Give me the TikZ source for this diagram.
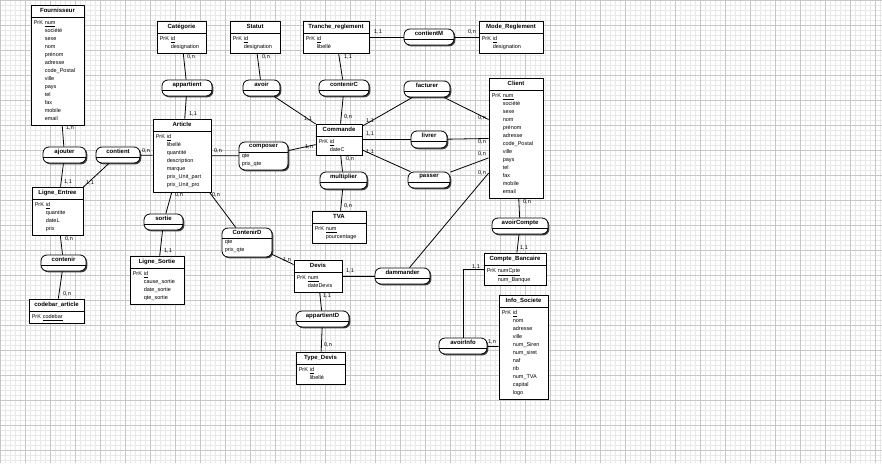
\documentclass[tikz,border=0pt]{standalone}
\usepackage{fontspec}
\setmainfont{Liberation Sans}
\usetikzlibrary{positioning,fit,shadows}
\tikzset{
  grillefine/.style={step=5pt, black!9, line width=0.4pt},
  grille/.style={step=25pt, black!22, line width=0.5pt},
  entite/.style={draw, fill=white, line width=0.8pt, inner sep=0pt,
    drop shadow={shadow xshift=1.3pt, shadow yshift=-1.3pt, fill=black!75, opacity=1}},
  assoc/.style={entite, rounded corners=6pt},
  titre/.style={inner sep=0pt, minimum height=12pt, font=\fontsize{6}{7}\selectfont\bfseries},
  attr/.style={inner xsep=3pt, inner ysep=2pt, anchor=north west, font=\fontsize{5.5}{8}\selectfont},
  card/.style={inner sep=0pt, font=\fontsize{5.5}{7}\selectfont},
  lien/.style={line width=0.8pt},
}
% entite : nom, coin haut gauche, coin bas droit, titre, attributs
\newcommand{\entite}[5]{%
  \node[entite, fit={#2 #3}] (#1) {};
  \node[titre, below=0pt of #1.north] (#1-t) {#4};
  \draw[lien] (#1-t.south -| #1.west) -- (#1-t.south -| #1.east);
  \node[attr] (#1-a) at (#1-t.south -| #1.west) {\begin{tabular}{@{}p{11pt}@{}l@{}}#5\end{tabular}};
}
% association : nom, coin haut gauche, coin bas droit, titre
\newcommand{\relation}[4]{%
  \node[assoc, fit={#2 #3}] (#1) {};
  \node[titre, minimum height=10pt, below=0pt of #1.north] (#1-t) {#4};
  \draw[lien] (#1-t.south -| #1.west) -- (#1-t.south -| #1.east);
}
\begin{document}
\begin{tikzpicture}[x=1pt, y=-1pt, line join=round]
\useasboundingbox (0,0) rectangle (882,463);
%Grille de fond
\draw[grillefine] (0,0) grid (882,463);
\draw[grille] (0,0) grid (882,463);
%Les entites
\entite{fourn}{(31,5)}{(84,125)}{Fournisseur}{PrK & \underline{num}\\ & société\\ & sexe\\ & nom\\ & prénom\\ & adresse\\ & code\_Postal\\ & ville\\ & pays\\ & tel\\ & fax\\ & mobile\\ & email}
\entite{categorie}{(157,21)}{(206,53)}{Catégorie}{PrK & \underline{id}\\ & designation}
\entite{statut}{(230,21)}{(280,53)}{Statut}{PrK & \underline{id}\\ & designation}
\entite{tranche}{(303,21)}{(369,53)}{Tranche\_reglement}{PrK & \underline{id}\\ & libellé}
\entite{mode}{(479,21)}{(543,53)}{Mode\_Reglement}{PrK & \underline{id}\\ & designation}
\entite{client}{(489,78)}{(543,198)}{Client}{PrK & \underline{num}\\ & société\\ & sexe\\ & nom\\ & prénom\\ & adresse\\ & code\_Postal\\ & ville\\ & pays\\ & tel\\ & fax\\ & mobile\\ & email}
\entite{article}{(153,119)}{(211,192)}{Article}{PrK & \underline{id}\\ & libellé\\ & quantité\\ & description\\ & marque\\ & prix\_Unit\_part\\ & prix\_Unit\_pro}
\entite{commande}{(316,124)}{(362,155)}{Commande}{PrK & \underline{id}\\ & dateC}
\entite{tva}{(312,211)}{(366,243)}{TVA}{PrK & \underline{num}\\ & pourcentage}
\entite{devis}{(294,260)}{(342,292)}{Devis}{PrK & \underline{num}\\ & dateDevis}
\entite{typedevis}{(296,352)}{(345,384)}{Type\_Devis}{PrK & \underline{id}\\ & libellé}
\entite{ligneE}{(32,187)}{(83,235)}{Ligne\_Entree}{PrK & \underline{id}\\ & quantite\\ & dateL\\ & prix}
\entite{codebar}{(29,299)}{(84,323)}{codebar\_article}{PrK & \underline{codebar}}
\entite{ligneS}{(130,256)}{(184,304)}{Ligne\_Sortie}{PrK & \underline{id}\\ & cause\_sortie\\ & date\_sortie\\ & qte\_sortie}
\entite{compte}{(484,253)}{(546,285)}{Compte\_Bancaire}{PrK & \underline{numCpte}\\ & num\_Banque}
\entite{info}{(499,295)}{(548,399)}{Info\_Societe}{PrK & \underline{id}\\ & nom\\ & adresse\\ & ville\\ & num\_Siren\\ & num\_siret\\ & naf\\ & rib\\ & num\_TVA\\ & capital\\ & logo}
%Les associations
\relation{ajouter}{(43,147)}{(86,163)}{ajouter}
\relation{contient}{(96,147)}{(140,163)}{contient}
\relation{appartient}{(162,80)}{(212,96)}{appartient}
\relation{avoir}{(243,80)}{(280,96)}{avoir}
\relation{contenirC}{(319,80)}{(369,96)}{contenirC}
\relation{contientM}{(404,29)}{(454,45)}{contientM}
\relation{facturer}{(404,81)}{(450,97)}{facturer}
\relation{livrer}{(411,131)}{(447,148)}{livrer}
\relation{passer}{(408,172)}{(450,188)}{passer}
\relation{composer}{(239,142)}{(288,170)}{composer}
\node[attr, inner ysep=0pt] (composer-a) at (composer-t.south -| composer.west) {\begin{tabular}{@{}l@{}}qte\\ prix\_qte\end{tabular}};
\relation{multiplier}{(320,172)}{(367,189)}{multiplier}
\relation{contenirD}{(222,228)}{(272,257)}{ContenirD}
\node[attr, inner ysep=0pt] (contenirD-a) at (contenirD-t.south -| contenirD.west) {\begin{tabular}{@{}l@{}}qte\\ prix\_qte\end{tabular}};
\relation{sortie}{(144,214)}{(183,230)}{sortie}
\relation{contenir}{(41,255)}{(86,271)}{contenir}
\relation{dammander}{(375,268)}{(430,284)}{dammander}
\relation{appartientD}{(296,311)}{(349,327)}{appartientD}
\relation{avoirCompte}{(492,218)}{(548,234)}{avoirCompte}
\relation{avoirInfo}{(439,338)}{(487,354)}{avoirInfo}
%Les liens
\draw[lien] (fourn) -- (ajouter);
\draw[lien] (ajouter) -- (ligneE);
\draw[lien] (contient) -- (article);
\draw[lien] (contient) -- (ligneE);
\draw[lien] (categorie) -- (appartient);
\draw[lien] (appartient) -- (article);
\draw[lien] (statut) -- (avoir);
\draw[lien] (avoir) -- (commande);
\draw[lien] (tranche) -- (contenirC);
\draw[lien] (contenirC) -- (commande);
\draw[lien] (tranche) -- (contientM);
\draw[lien] (contientM) -- (mode);
\draw[lien] (article) -- (composer);
\draw[lien] (composer) -- (commande);
\draw[lien] (commande) -- (multiplier);
\draw[lien] (multiplier) -- (tva);
\draw[lien] (commande) -- (facturer);
\draw[lien] (facturer) -- (client.146);
\draw[lien] (commande) -- (livrer);
\draw[lien] (livrer) -- (client);
\draw[lien] (commande) -- (passer);
\draw[lien] (passer) -- (client.216);
\draw[lien] (devis) -- (dammander);
\draw[lien] (dammander) -- (client.232);
\draw[lien] (article) -- (contenirD);
\draw[lien] (contenirD) -- (devis);
\draw[lien] (article) -- (sortie);
\draw[lien] (sortie) -- (ligneS);
\draw[lien] (ligneE) -- (contenir);
\draw[lien] (contenir) -- (codebar);
\draw[lien] (devis) -- (appartientD);
\draw[lien] (appartientD) -- (typedevis);
\draw[lien] (client) -- (avoirCompte);
\draw[lien] (avoirCompte) -- (compte);
\draw[lien] (compte.west) -| (avoirInfo.north);
\draw[lien] (avoirInfo) -- (info);
%Les cardinalites
\node[card] (k1) at (70,128) {1,n};
\node[card] (k2) at (68,182) {1,1};
\node[card] (k3) at (90,183) {1,1};
\node[card] (k4) at (146,151) {0,n};
\node[card] (k5) at (191,57) {0,n};
\node[card] (k6) at (193,114) {1,1};
\node[card] (k7) at (218,151) {0,n};
\node[card] (k8) at (309,147) {1,n};
\node[card] (k9) at (266,57) {0,n};
\node[card] (k10) at (308,119) {1,1};
\node[card] (k11) at (348,57) {1,1};
\node[card] (k12) at (348,117) {0,n};
\node[card] (k13) at (350,159) {0,n};
\node[card] (k14) at (348,206) {0,n};
\node[card] (k15) at (378,32) {1,1};
\node[card] (k16) at (472,32) {0,n};
\node[card] (k17) at (370,121) {1,1};
\node[card] (k18) at (482,118) {0,n};
\node[card] (k19) at (370,134) {1,1};
\node[card] (k20) at (482,142) {0,n};
\node[card] (k21) at (370,152) {1,1};
\node[card] (k22) at (482,154) {0,n};
\node[card] (k23) at (482,173) {0,n};
\node[card] (k24) at (179,195) {0,n};
\node[card] (k25) at (216,195) {0,n};
\node[card] (k26) at (168,251) {1,1};
\node[card] (k27) at (69,239) {0,n};
\node[card] (k28) at (67,294) {0,n};
\node[card] (k29) at (287,260) {1,n};
\node[card] (k30) at (350,271) {1,1};
\node[card] (k31) at (327,296) {1,1};
\node[card] (k32) at (328,345) {0,n};
\node[card] (k33) at (527,202) {0,n};
\node[card] (k34) at (524,248) {1,1};
\node[card] (k35) at (476,267) {1,1};
\node[card] (k36) at (492,342) {1,n};
\end{tikzpicture}
\end{document}
